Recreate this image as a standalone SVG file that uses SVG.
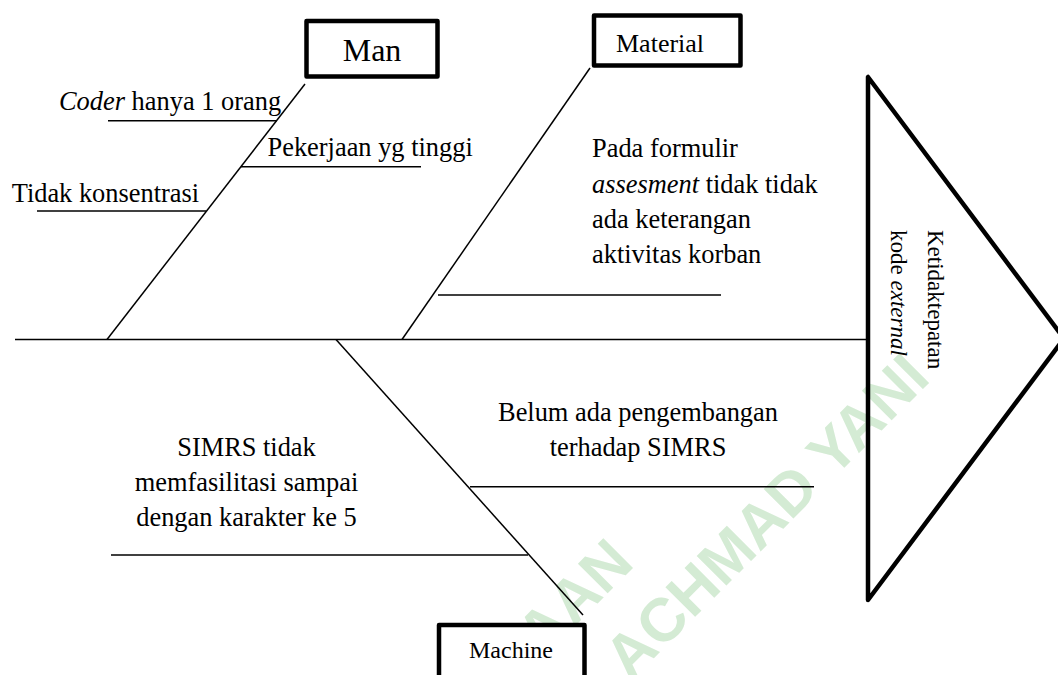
<svg xmlns="http://www.w3.org/2000/svg" width="1058" height="675" viewBox="0 0 1058 675">
<style>
.t{font-family:"Liberation Serif","Times New Roman",serif;font-size:26.4px;fill:#000}
.i{font-style:italic}
.box{fill:#fff;stroke:#000;stroke-width:4.5;stroke-linejoin:round}
.ln{stroke:#000;stroke-width:1.5;fill:none}
.wm{font-family:"Liberation Sans",Arial,sans-serif;font-weight:bold;font-size:61px;fill:#d4ebd4}
</style>
<rect width="1058" height="675" fill="#fff"/>
<g id="watermark">
<text class="wm" text-anchor="end" transform="translate(636,565) rotate(-45)">KAAN</text>
<text class="wm" transform="translate(630,682) rotate(-45)">ACHMAD YANI</text>
</g>
<g id="connectors">
<line class="ln" x1="15" y1="339.5" x2="866" y2="339.5"/>
<line class="ln" x1="305" y1="84" x2="107" y2="339.5"/>
<line class="ln" x1="590" y1="68" x2="402" y2="339.5"/>
<line class="ln" x1="336" y1="339.5" x2="583" y2="615"/>
<line class="ln" x1="108" y1="120.7" x2="277" y2="120.7"/>
<line class="ln" x1="241" y1="166.7" x2="421" y2="166.7"/>
<line class="ln" x1="37" y1="211" x2="206" y2="211"/>
<line class="ln" x1="438" y1="295" x2="721" y2="295"/>
<line class="ln" x1="470" y1="486.7" x2="814" y2="486.7"/>
<line class="ln" x1="111" y1="555" x2="528" y2="555"/>
</g>
<g id="node-man">
<rect class="box" x="306.5" y="21" width="131" height="55.5"/>
<text class="t" x="372" y="60.7" text-anchor="middle" style="font-size:32px">Man</text>
</g>
<g id="node-material">
<rect class="box" x="594" y="15.5" width="146.5" height="50"/>
<text class="t" x="616" y="51.7" style="font-size:26px">Material</text>
</g>
<g id="node-machine">
<rect class="box" x="439" y="625" width="145.5" height="60"/>
<text class="t" x="469" y="658" style="font-size:24px">Machine</text>
</g>
<g id="node-effect">
<polygon class="box" style="fill:none" points="868,77 868,600 1064,338.5"/>
<text class="t" transform="translate(928,230) rotate(90)" style="font-size:23px">Ketidaktepatan</text>
<text class="t" transform="translate(891,230) rotate(90)" style="font-size:23px">kode <tspan class="i">external</tspan></text>
</g>
<g id="cause-man">
<text class="t" x="59" y="110"><tspan class="i">Coder</tspan> hanya 1 orang</text>
<text class="t" x="267.5" y="156">Pekerjaan yg tinggi</text>
<text class="t" x="11.7" y="201.7">Tidak konsentrasi</text>
</g>
<g id="cause-material">
<text class="t" x="592" y="157">Pada formulir</text>
<text class="t" x="592" y="193"><tspan class="i">assesment</tspan> tidak tidak</text>
<text class="t" x="592" y="228">ada keterangan</text>
<text class="t" x="592" y="263">aktivitas korban</text>
</g>
<g id="cause-machine">
<text class="t" x="638" y="420.7" text-anchor="middle">Belum ada pengembangan</text>
<text class="t" x="638" y="456" text-anchor="middle">terhadap SIMRS</text>
<text class="t" x="246.5" y="456" text-anchor="middle">SIMRS tidak</text>
<text class="t" x="246.5" y="491" text-anchor="middle">memfasilitasi sampai</text>
<text class="t" x="246.5" y="526" text-anchor="middle">dengan karakter ke 5</text>
</g>
</svg>
